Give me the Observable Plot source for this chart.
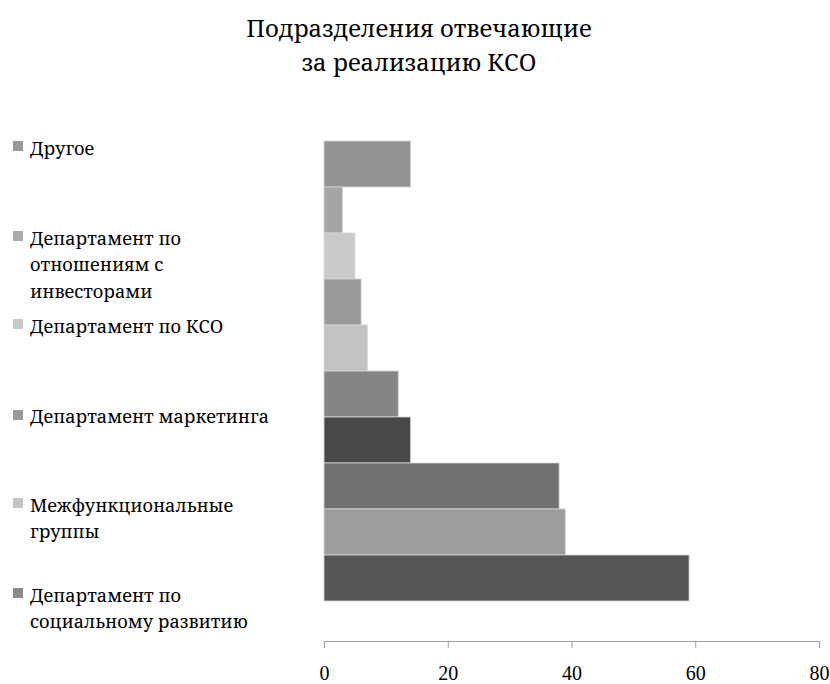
<!DOCTYPE html>
<html><head><meta charset="utf-8">
<script src="https://cdn.jsdelivr.net/npm/d3@7"></script>
<script src="https://cdn.jsdelivr.net/npm/@observablehq/plot@0.6"></script>
<style>
body{margin:0;background:#fff;}
#wrap{position:relative;width:830px;height:684px;font-family:"Noto Serif","DejaVu Serif",serif;color:#000;}
#title{position:absolute;left:4px;top:11px;width:830px;text-align:center;font-size:23.8px;line-height:34px;}
.sw{position:absolute;left:13px;width:10px;height:10px;}
.tx{position:absolute;left:30px;font-size:18.2px;line-height:26.5px;white-space:pre;}
#chart{position:absolute;left:0;top:0;}
</style></head>
<body>
<div id="wrap">
  <div id="chart"></div>
  <div id="title">Подразделения отвечающие<br>за реализацию КСО</div>
</div>
<script>
// bar data (top to bottom)
const barIds = [1,2,3,4,5,6,7,8,9,10];
const barValues = [14,3,5,6,7,12,14,38,39,59];
const barColors = ["#939393","#a5a5a5","#cacaca","#9a9a9a","#c3c3c3","#858585","#484848","#717171","#9d9d9d","#555555"];
// legend
const legendLabels = [
  "Другое",
  "Департамент по\nотношениям с\nинвесторами",
  "Департамент по КСО",
  "Департамент маркетинга",
  "Межфункциональные\nгруппы",
  "Департамент по\nсоциальному развитию"
];
const legendColors = ["#9a9a9a","#aaaaaa","#c8c8c8","#999999","#c4c4c4","#8a8a8a"];
const legendCenters = [148,238,326,416.7,505,595];
const xTicks = [0,20,40,60,80];

const data = barIds.map((id,i)=>({id, value:barValues[i], color:barColors[i]}));

const chart = Plot.plot({
  width:830, height:684,
  marginLeft:324, marginRight:11, marginTop:100, marginBottom:43,
  style:{fontFamily:'"Liberation Serif","Times New Roman",serif', fontSize:"20px", color:"#000", background:"#fff"},
  x:{domain:[0,80], ticks:xTicks, label:null},
  y:{domain:barIds, range:[137.3,605.3], padding:0, axis:null},
  marks:[
    Plot.barX(data,{y:"id", x:"value", fill:"color", stroke:"#d6d6d6", strokeWidth:0.8}),
    Plot.frame({anchor:"bottom", stroke:"#a0a0a0", strokeOpacity:1}),
    Plot.axisX({ticks:xTicks, tickSize:7, tickPadding:17, stroke:"#a0a0a0", fill:"#000", label:null, fontSize:20})
  ]
});
document.getElementById("chart").appendChild(chart);

const wrap = document.getElementById("wrap");
legendLabels.forEach((lab,i)=>{
  const c = legendCenters[i];
  const sw = document.createElement("div");
  sw.className="sw"; sw.style.top=(c-7)+"px"; sw.style.background=legendColors[i];
  wrap.appendChild(sw);
  const tx = document.createElement("div");
  tx.className="tx"; tx.style.top=(c-13.25)+"px"; tx.textContent=lab;
  wrap.appendChild(tx);
});
</script>
</body></html>
